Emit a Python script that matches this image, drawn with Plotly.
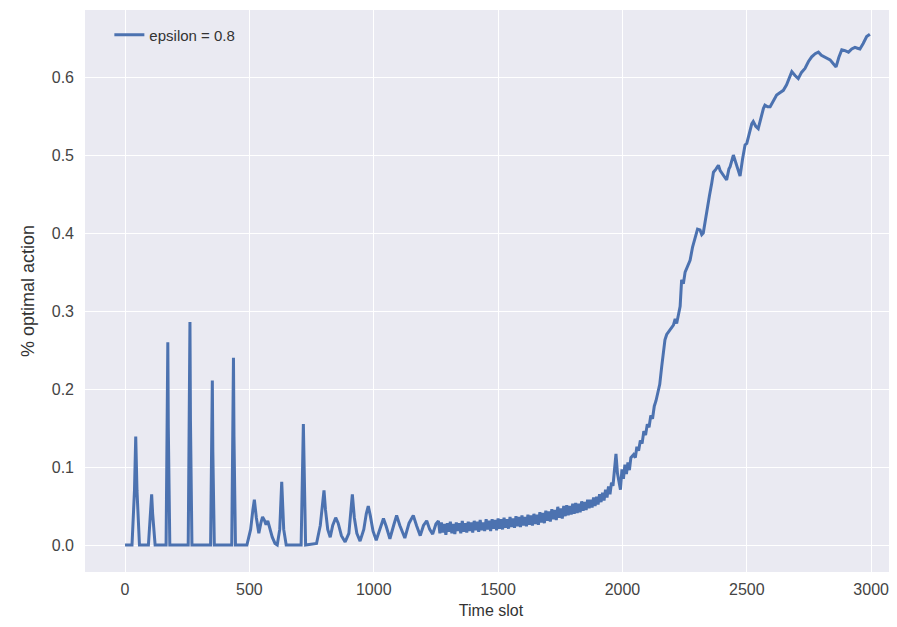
import plotly.graph_objects as go

# Spikes / early phase (0-490)
x_early = [0, 28, 38, 43, 48, 58, 94, 103, 107, 111, 121, 165, 170, 172, 174, 180, 254, 259, 261, 263, 269,
           344, 349, 351, 353, 359, 429, 434, 436, 438, 444, 490]
y_early = [0, 0, 0.07, 0.139, 0.07, 0, 0, 0.04, 0.065, 0.04, 0, 0, 0.15, 0.26, 0.15, 0, 0, 0.16, 0.286, 0.16, 0,
           0, 0.12, 0.211, 0.12, 0, 0, 0.14, 0.240, 0.14, 0, 0]

# Damped bumps (500-1260)
x_bumps = [505, 514, 520, 528, 538, 546, 553, 560, 567, 574, 582, 592, 603, 612, 622, 630, 638, 648,
           708, 717, 726, 770, 785, 795, 800, 806, 815, 825, 835, 847, 857, 870, 885, 900, 914, 922,
           932, 945, 960, 970, 978, 986, 997, 1010, 1025, 1039, 1050, 1065, 1080, 1092, 1105, 1125,
           1142, 1159, 1172, 1187, 1200, 1213, 1225, 1237, 1250, 1260]
y_bumps = [0.02, 0.045, 0.058, 0.035, 0.015, 0.028, 0.036, 0.032, 0.026, 0.031, 0.022, 0.01, 0.002, 0.0, 0.02, 0.081, 0.02, 0.0,
           0.0, 0.155, 0.0, 0.002, 0.025, 0.05, 0.07, 0.045, 0.02, 0.01, 0.025, 0.035, 0.028, 0.012, 0.004, 0.015, 0.065, 0.035,
           0.015, 0.005, 0.02, 0.04, 0.05, 0.038, 0.018, 0.006, 0.02, 0.034, 0.024, 0.008, 0.025, 0.038, 0.025, 0.009,
           0.028, 0.038, 0.025, 0.012, 0.025, 0.031, 0.02, 0.014, 0.027, 0.031]

# Noisy plateau (1266-2034)
x_plateau = [1266, 1272, 1278, 1284, 1290, 1296, 1302, 1308, 1314, 1320, 1326, 1332, 1338, 1344, 1350, 1356,
             1362, 1368, 1374, 1380, 1386, 1392, 1398, 1404, 1410, 1416, 1422, 1428, 1434, 1440, 1446, 1452,
             1458, 1464, 1470, 1476, 1482, 1488, 1494, 1500, 1506, 1512, 1518, 1524, 1530, 1536, 1542, 1548,
             1554, 1560, 1566, 1572, 1578, 1584, 1590, 1596, 1602, 1608, 1614, 1620, 1626, 1632, 1638, 1644,
             1650, 1656, 1662, 1668, 1674, 1680, 1686, 1692, 1698, 1704, 1710, 1716, 1722, 1728, 1734, 1740,
             1746, 1752, 1758, 1764, 1770, 1776, 1782, 1788, 1794, 1800, 1806, 1812, 1818, 1824, 1830, 1836,
             1842, 1848, 1854, 1860, 1866, 1872, 1878, 1884, 1890, 1896, 1902, 1908, 1914, 1920, 1926, 1932,
             1938, 1944, 1950, 1956, 1962, 1968, 1974, 1980, 1986, 1992, 1998, 2004, 2010, 2016, 2022, 2028, 2034]
y_plateau = [0.015, 0.029, 0.016, 0.027, 0.013, 0.028, 0.017, 0.030, 0.015, 0.027, 0.014, 0.029, 0.018, 0.028, 0.015, 0.031,
             0.017, 0.028, 0.016, 0.030, 0.018, 0.029, 0.016, 0.031, 0.019, 0.030, 0.017, 0.032, 0.019, 0.029, 0.018, 0.033,
             0.020, 0.031, 0.018, 0.033, 0.021, 0.032, 0.019, 0.034, 0.021, 0.033, 0.020, 0.035, 0.022, 0.033, 0.021, 0.036,
             0.023, 0.034, 0.022, 0.037, 0.024, 0.036, 0.023, 0.038, 0.025, 0.036, 0.024, 0.039, 0.026, 0.038, 0.025, 0.040,
             0.027, 0.039, 0.026, 0.042, 0.029, 0.041, 0.028, 0.044, 0.031, 0.043, 0.030, 0.046, 0.033, 0.045, 0.032, 0.049,
             0.035, 0.047, 0.034, 0.050, 0.037, 0.051, 0.038, 0.050, 0.039, 0.053, 0.040, 0.054, 0.041, 0.053, 0.042, 0.056,
             0.044, 0.055, 0.045, 0.058, 0.047, 0.058, 0.048, 0.061, 0.050, 0.062, 0.052, 0.065, 0.055, 0.067, 0.057, 0.071,
             0.061, 0.075, 0.065, 0.080, 0.076, 0.093, 0.117, 0.092, 0.078, 0.071, 0.097, 0.085, 0.103, 0.091, 0.106, 0.096, 0.112]

# Rise and saturation (2045-2995)
x_rise = [2045, 2052, 2058, 2065, 2072, 2079, 2086, 2093, 2100, 2107, 2114, 2121, 2128, 2135, 2142, 2150, 2158,
          2165, 2171, 2178, 2185, 2195, 2205, 2212, 2218, 2225, 2232, 2238, 2245, 2252, 2261, 2268, 2272, 2282,
          2292, 2302, 2312, 2319, 2325, 2332, 2339, 2350, 2359, 2366, 2376, 2386, 2393, 2399, 2409, 2419, 2428,
          2433, 2446, 2455, 2465, 2473, 2483, 2493, 2500, 2510, 2520, 2526, 2536, 2546, 2556, 2567, 2573, 2584,
          2594, 2607, 2620, 2633, 2647, 2660, 2670, 2681, 2694, 2707, 2720, 2734, 2748, 2761, 2775, 2788, 2800,
          2814, 2825, 2835, 2848, 2859, 2870, 2882, 2895, 2909, 2922, 2935, 2945, 2955, 2968, 2982, 2995]
y_rise = [0.116, 0.112, 0.126, 0.121, 0.134, 0.130, 0.146, 0.141, 0.155, 0.151, 0.166, 0.162, 0.178, 0.185, 0.196, 0.206, 0.229,
          0.248, 0.263, 0.27, 0.273, 0.278, 0.282, 0.29, 0.284, 0.295, 0.306, 0.34, 0.335, 0.35, 0.357, 0.36, 0.365, 0.382,
          0.395, 0.405, 0.404, 0.398, 0.4, 0.415, 0.429, 0.448, 0.464, 0.478, 0.482, 0.487, 0.48, 0.477, 0.472, 0.468, 0.482,
          0.485, 0.5, 0.49, 0.48, 0.473, 0.495, 0.513, 0.515, 0.528, 0.54, 0.543, 0.537, 0.534, 0.548, 0.56, 0.564, 0.562,
          0.562, 0.57, 0.577, 0.58, 0.583, 0.59, 0.598, 0.607, 0.602, 0.598, 0.606, 0.611, 0.62, 0.626, 0.63, 0.632, 0.628,
          0.626, 0.624, 0.622, 0.617, 0.613, 0.625, 0.635, 0.634, 0.632, 0.636, 0.638, 0.637, 0.636, 0.643, 0.652, 0.655]

x_ticks = [0, 500, 1000, 1500, 2000, 2500, 3000]
y_ticks = [0.0, 0.1, 0.2, 0.3, 0.4, 0.5, 0.6]

time_slot = x_early + x_bumps + x_plateau + x_rise
optimal = y_early + y_bumps + y_plateau + y_rise

FONT = "Liberation Sans, Arial, sans-serif"

fig = go.Figure()
fig.add_trace(go.Scatter(
    x=time_slot, y=optimal, mode="lines", name="epsilon = 0.8",
    line=dict(color="#4C72B0", width=3),
))

# page body has an 8px margin, so the figure is offset by 8px in the window
fig.update_layout(
    width=889, height=619,
    margin=dict(l=77, r=0, t=2, b=55),
    paper_bgcolor="white", plot_bgcolor="#EAEAF2",
    font=dict(family=FONT, size=16, color="#444444"),
    showlegend=True,
    legend=dict(x=0.03, y=0.985, xanchor="left", yanchor="top",
                bgcolor="rgba(0,0,0,0)", font=dict(size=15, color="#333333")),
)
fig.update_xaxes(
    range=[-161, 3104], tickvals=x_ticks, ticktext=[str(v) for v in x_ticks],
    showgrid=True, gridcolor="white", gridwidth=1.3, zeroline=False, showline=False,
    ticks="", ticklabelstandoff=6,
    tickfont=dict(size=16, color="#444444"),
    title=dict(text="Time slot", font=dict(size=16, color="#333333"), standoff=7),
)
fig.update_yaxes(
    range=[-0.0346, 0.686], tickvals=y_ticks, ticktext=[f"{v:.1f}" for v in y_ticks],
    showgrid=True, gridcolor="white", gridwidth=1.3, zeroline=False, showline=False,
    ticks="", ticklabelstandoff=10,
    tickfont=dict(size=16, color="#444444"),
    title=dict(text="% optimal action", font=dict(size=18, color="#333333"), standoff=12),
)

fig.write_html("out.html")
